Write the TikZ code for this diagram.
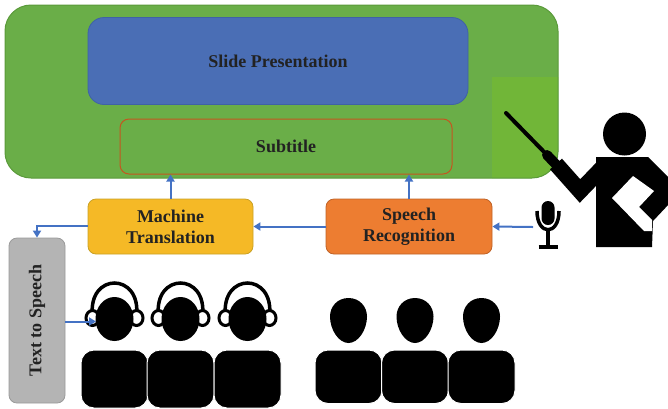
\documentclass[tikz,border=0pt]{standalone}
\usepackage{fontspec}
\setmainfont{Liberation Serif}
\usetikzlibrary{arrows.meta}

\definecolor{stagegreen}{HTML}{6AAE48}
\definecolor{stageedge}{HTML}{5A9A3A}
\definecolor{stagepatch}{HTML}{71B638}
\definecolor{slideblue}{HTML}{4A6EB5}
\definecolor{slideedge}{HTML}{3F62A6}
\definecolor{subedge}{HTML}{C5561F}
\definecolor{mtgold}{HTML}{F5B926}
\definecolor{mtedge}{HTML}{C9A124}
\definecolor{srorange}{HTML}{ED7D31}
\definecolor{sredge}{HTML}{BF6226}
\definecolor{ttsgray}{HTML}{B4B4B4}
\definecolor{ttsedge}{HTML}{9A9A9A}
\definecolor{flowblue}{HTML}{4472C4}
\definecolor{labelink}{HTML}{222222}

\tikzset{
  block/.style={draw, line width=0.8pt, inner sep=0pt, align=center,
    text=labelink, font=\bfseries\fontsize{18}{21}\selectfont},
  flow/.style={draw=flowblue, line width=2pt,
    -{Triangle[length=7pt,width=8pt]}},
  % listener wearing headphones; origin at the face centre
  listener/.pic={
    \draw[line width=3.5pt] (-22,-2) .. controls (-27,-46) and (27,-46) .. (22,-2);
    \filldraw[fill=white, draw=black, line width=3pt] (-22,0) ellipse [x radius=6.5, y radius=7.5];
    \filldraw[fill=white, draw=black, line width=3pt] (22,0) ellipse [x radius=6.5, y radius=7.5];
    \fill (0,1) ellipse [x radius=19, y radius=22];
    \filldraw[draw=white, line width=1pt, rounded corners=13pt] (-33.5,32) rectangle (33.5,90);
  },
  % plain audience member; origin at the face centre
  viewer/.pic={
    \fill (0,-22.5) .. controls (11,-22.5) and (18.5,-14) .. (18.5,-4)
          .. controls (18.5,9) and (10,22.5) .. (0,22.5)
          .. controls (-10,22.5) and (-18.5,9) .. (-18.5,-4)
          .. controls (-18.5,-14) and (-11,-22.5) .. (0,-22.5) -- cycle;
    \filldraw[draw=white, line width=1pt, rounded corners=13pt] (-33.5,29.5) rectangle (33.5,83);
  },
}

\begin{document}
\begin{tikzpicture}[x=1pt, y=-1pt]
  \path[use as bounding box] (0,0) rectangle (668,408);

  % stage area
  \node[fill=stagegreen, draw=none, rounded corners=26pt,
        minimum width=553pt, minimum height=173pt, inner sep=0pt] (stage) at (281.5,91.5) {};
  \begin{scope}
    \clip[rounded corners=26pt] (5,5) rectangle (558,178);
    \fill[stagepatch] (492,77) rectangle (560,180);
  \end{scope}
  \draw[stageedge, line width=1pt, rounded corners=26pt] (5,5) rectangle (558,178);

  % slide and subtitle
  \node[block, fill=slideblue, draw=slideedge, rounded corners=16pt,
        minimum width=380pt, minimum height=87pt] (slide) at (278,61) {Slide Presentation};
  \node[block, draw=subedge, line width=1pt, rounded corners=9pt,
        minimum width=332pt, minimum height=55pt] (sub) at (286,146.5) {Subtitle};

  % processing blocks
  \node[block, fill=mtgold, draw=mtedge, rounded corners=8pt,
        minimum width=165pt, minimum height=55pt] (mt) at (170.5,226.5) {Machine\\Translation};
  \node[block, fill=srorange, draw=sredge, rounded corners=8pt,
        minimum width=166pt, minimum height=55pt] (sr) at (409,226.5) {Speech\\Recognition};
  \node[block, fill=ttsgray, draw=ttsedge, rounded corners=8pt,
        minimum width=56pt, minimum height=165pt] (tts) at (37,320.5) {\rotatebox{90}{Text to Speech}};

  % presenter with pointer
  \draw[line width=4pt, line cap=round] (506,113) -- (550,158);
  \draw[line width=10pt, line cap=round] (547,155) -- (566,175);
  \draw[line width=16pt, line join=miter] (556,164) -- (580,191) -- (606,164);
  \fill (624.5,134) circle [radius=21.5];
  \fill (596,157) -- (648,157) -- (669,178) -- (669,204) -- (653,221)
        -- (652,247) -- (596,247) -- cycle;
  % tablet held under the other arm
  \fill[white] (612,198) -- (633,176) -- (654,191) -- (639,207) -- (652,220)
        -- (652,231) -- (644,231) -- cycle;

  % microphone
  \fill[rounded corners=6.5pt] (541.5,201) rectangle (554.5,225);
  \draw[line width=3.5pt] (537,211) .. controls (537,236) and (559,236) .. (559,211);
  \draw[line width=3.5pt] (548,230) -- (548,247);
  \draw[line width=3.5pt] (538.5,247) -- (557.5,247);
  \coordinate (mic) at (533,227);

  % audience
  \foreach \cx in {114.5,180.5,247.5} \pic at (\cx,318) {listener};
  \foreach \cx in {348.5,415,481.5} \pic at (\cx,320.5) {viewer};
  \coordinate (ear) at (96,321.5);

  % information flow
  \draw[flow] (mic) -- (sr.east);
  \draw[flow] (sr.west) -- (mt.east);
  \draw[flow] (sr.north) -- (sr.north |- sub.south);
  \draw[flow] (mt.north) -- (mt.north |- sub.south);
  \draw[flow] ([yshift=1pt]mt.west) -| (tts.north);
  \draw[flow] ([yshift=-1pt]tts.east) -- (ear);
\end{tikzpicture}
\end{document}
